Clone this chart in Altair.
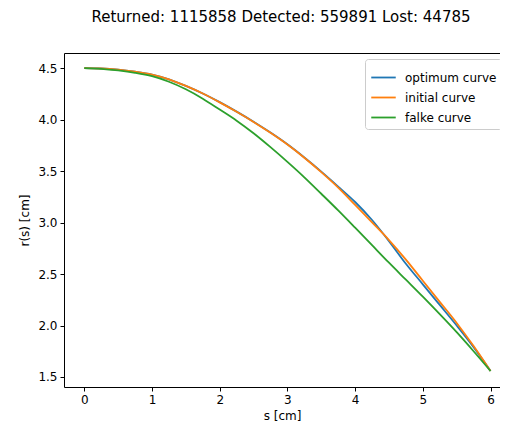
import altair as alt
import pandas as pd

s_vals = [0.0, 0.25, 0.5, 0.75, 1.0, 1.25, 1.5, 1.75, 2.0, 2.25, 2.5, 2.75, 3.0,
          3.25, 3.5, 3.75, 4.0, 4.25, 4.5, 4.75, 5.0, 5.25, 5.5, 5.75, 6.0]

optimum = [4.500, 4.497, 4.486, 4.466, 4.438, 4.392, 4.328, 4.254, 4.170, 4.078, 3.980,
           3.874, 3.760, 3.632, 3.495, 3.350, 3.200, 3.025, 2.820, 2.600, 2.400,
           2.200, 2.000, 1.790, 1.558]
initial = [4.500, 4.497, 4.486, 4.466, 4.438, 4.392, 4.328, 4.254, 4.168, 4.076, 3.978,
           3.872, 3.758, 3.630, 3.490, 3.340, 3.172, 3.002, 2.830, 2.640, 2.435,
           2.230, 2.025, 1.800, 1.558]
falke = [4.500, 4.494, 4.478, 4.455, 4.422, 4.368, 4.295, 4.204, 4.098, 3.990, 3.868,
         3.733, 3.590, 3.440, 3.280, 3.118, 2.950, 2.780, 2.610, 2.445, 2.280,
         2.110, 1.935, 1.750, 1.558]

series_names = ["optimum curve", "initial curve", "falke curve"]
series_colors = ["#1f77b4", "#ff7f0e", "#2ca02c"]

rows = []
for name, vals in zip(series_names, [optimum, initial, falke]):
    for i, (s, r) in enumerate(zip(s_vals, vals)):
        rows.append({"s": s, "r": r, "series": name, "order": i})
df = pd.DataFrame(rows)

FONT = "DejaVu Sans"
xscale = alt.Scale(domain=[-0.3, 6.14], nice=False, zero=False)
yscale = alt.Scale(domain=[1.4025, 4.6475], nice=False, zero=False)

lines = alt.Chart(df).mark_line(strokeWidth=1.8, interpolate="monotone").encode(
    x=alt.X("s:Q", scale=xscale,
            axis=alt.Axis(title="s [cm]", values=[0, 1, 2, 3, 4, 5, 6], format="d",
                          grid=False, tickSize=4, labelPadding=3, titlePadding=5,
                          domainColor="black", tickColor="black", labelColor="black",
                          titleColor="black", labelFontSize=12, titleFontSize=12,
                          titleFontWeight="normal", labelFont=FONT, titleFont=FONT)),
    y=alt.Y("r:Q", scale=yscale,
            axis=alt.Axis(title="r(s) [cm]", values=[1.5, 2.0, 2.5, 3.0, 3.5, 4.0, 4.5],
                          format=".1f", grid=False, tickSize=4, labelPadding=3,
                          titlePadding=6, domainColor="black", tickColor="black",
                          labelColor="black", titleColor="black", labelFontSize=12,
                          titleFontSize=12, titleFontWeight="normal",
                          labelFont=FONT, titleFont=FONT)),
    color=alt.Color("series:N",
                    scale=alt.Scale(domain=series_names, range=series_colors),
                    sort=series_names,
                    legend=alt.Legend(title=None, orient="none", legendX=301, legendY=6,
                                      symbolType="stroke", symbolSize=600,
                                      symbolStrokeWidth=1.8, labelFontSize=12,
                                      labelFont=FONT, labelColor="black",
                                      rowPadding=-5, labelOffset=8,
                                      fillColor="white", strokeColor="#cccccc",
                                      cornerRadius=3, padding=5)),
    order="order:Q",
)

# top spine: an axis with only its domain line
top = alt.Chart(df).mark_line(opacity=0).encode(
    x=alt.X("s:Q", scale=xscale,
            axis=alt.Axis(orient="top", title=None, labels=False, ticks=False,
                          grid=False, domainColor="black")),
    y=alt.Y("r:Q", scale=yscale),
)

chart = alt.layer(lines, top).resolve_axis(x="independent").properties(
    width=436,
    height=334,
    title=alt.TitleParams("Returned: 1115858 Detected: 559891 Lost: 44785",
                          fontSize=15, font=FONT, fontWeight="normal",
                          color="black", offset=28, dx=-1),
    autosize=alt.AutoSizeParams(type="none"),
    padding={"left": 56, "top": 45, "right": 0, "bottom": 45},
).configure_view(stroke=None)

chart.save("out.html", embed_options={"renderer": "svg", "actions": False})
